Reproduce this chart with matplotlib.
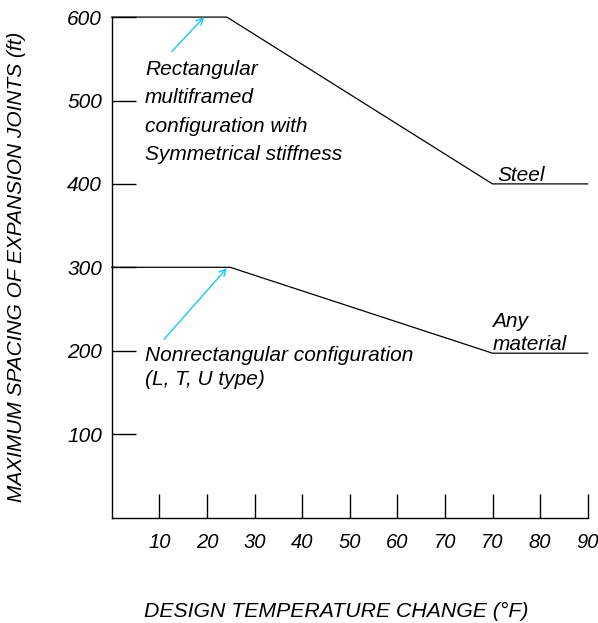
import matplotlib
matplotlib.use("Agg")
import matplotlib.pyplot as plt

plt.rcParams['font.family'] = ['Liberation Sans', 'DejaVu Sans']
plt.rcParams['font.style'] = 'italic'

# Data (x in tick units of 10 per tick; labels as printed on the original chart)
tick_pos = [10, 20, 30, 40, 50, 60, 70, 80, 90, 100]
tick_labels = ['10', '20', '30', '40', '50', '60', '70', '70', '80', '90']
y_ticks = [100, 200, 300, 400, 500, 600]

steel_x = [0, 24.2, 80, 100]
steel_y = [600, 600, 400, 400]
any_x = [0, 24.9, 80, 100]
any_y = [300, 300, 197, 197]

W, H = 598, 623
fig = plt.figure(figsize=(W / 100, H / 100), dpi=100)
ax = fig.add_axes([111.7 / W, 1 - 517.5 / H, (587.7 - 111.7) / W, (517.5 - 17.1) / H])

ax.plot(steel_x, steel_y, color='black', lw=0.9, clip_on=False)
ax.plot(any_x, any_y, color='black', lw=0.9, clip_on=False)

ax.set_xlim(0, 100)
ax.set_ylim(0, 600)
for s in ['top', 'right']:
    ax.spines[s].set_visible(False)
for s in ['left', 'bottom']:
    ax.spines[s].set_linewidth(1.0)

ax.set_xticks(tick_pos)
ax.set_xticklabels(tick_labels, fontsize=14.5, style='italic')
ax.set_yticks(y_ticks)
ax.set_yticklabels([str(v) for v in y_ticks], fontsize=15, style='italic')
ax.tick_params(axis='x', direction='in', length=17, width=1.0, pad=11, colors='black')
ax.tick_params(axis='y', direction='in', length=17, width=1.0, pad=7, colors='black')

cyan = '#1cc6f2'
ax.annotate('', xy=(19.4, 600), xytext=(12.6, 558.5),
            arrowprops=dict(arrowstyle='->', color=cyan, lw=1.0, shrinkA=0, shrinkB=0,
                            mutation_scale=12), annotation_clip=False)
ax.annotate('', xy=(24.2, 299), xytext=(11.0, 213.7),
            arrowprops=dict(arrowstyle='->', color=cyan, lw=1.0, shrinkA=0, shrinkB=0,
                            mutation_scale=12), annotation_clip=False)

ax.text(7.0, 428.7, 'Rectangular\nmultiframed\nconfiguration with\nSymmetrical stiffness',
        fontsize=15, style='italic', ha='left', va='baseline', linespacing=1.63)
ax.text(7.0, 158.9, 'Nonrectangular configuration\n(L, T, U type)',
        fontsize=15, style='italic', ha='left', va='baseline', linespacing=1.35)
ax.text(81.0, 403.8, 'Steel', fontsize=15, style='italic', ha='left', va='baseline')
ax.text(80.0, 200.8, 'Any\nmaterial', fontsize=15, style='italic', ha='left',
        va='baseline', linespacing=1.26)

fig.text(336.5 / W, 1 - 611.5 / H, 'DESIGN TEMPERATURE CHANGE (°F)', fontsize=15.3,
         style='italic', ha='center', va='center')
fig.text(17 / W, 1 - 266.7 / H, 'MAXIMUM SPACING OF EXPANSION JOINTS (ft)', fontsize=15,
         style='italic', ha='center', va='center', rotation=90)

fig.savefig('out.png', dpi=100)
